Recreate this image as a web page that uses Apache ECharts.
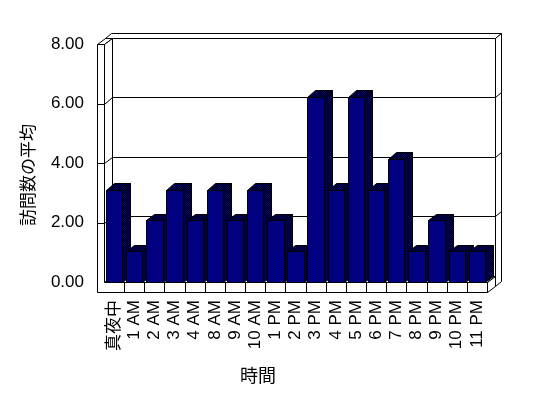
<!DOCTYPE html>
<html>
<head>
<meta charset="utf-8">
<script src="https://cdn.jsdelivr.net/npm/echarts@6/dist/echarts.min.js"></script>
<style>
  html, body { margin: 0; padding: 0; background: #fff; }
  #chart { width: 548px; height: 398px; }
</style>
</head>
<body>
<div id="chart"></div>
<script>
var hours = ['真夜中', '1 AM', '2 AM', '3 AM', '4 AM', '8 AM', '9 AM', '10 AM', '1 PM', '2 PM',
  '3 PM', '4 PM', '5 PM', '6 PM', '7 PM', '8 PM', '9 PM', '10 PM', '11 PM'];
var visits = [3.1, 1.03, 2.07, 3.1, 2.07, 3.1, 2.07, 3.1, 2.07, 1.03,
  6.23, 3.1, 6.23, 3.1, 4.14, 1.03, 2.07, 1.03, 1.03];
var yTicks = [0, 2, 4, 6, 8];
var xTitle = '時間';
var yTitle = '訪問数の平均';

var latin = "'Liberation Sans', 'Noto Sans CJK JP', sans-serif";
var cjk = "'Noto Sans CJK JP', sans-serif";

// 3D helper: depth z goes right and up
function P(x, y, z) {
  return [Math.round(x + z) + 0.5, Math.round(y - 0.8 * z) + 0.5];
}

// checker pattern for the side / top faces of the columns
var pc = document.createElement('canvas');
pc.width = 2; pc.height = 2;
var g = pc.getContext('2d');
g.fillStyle = '#000000'; g.fillRect(0, 0, 2, 2);
g.fillStyle = '#000080'; g.fillRect(0, 0, 1, 1); g.fillRect(1, 1, 1, 1);
var shade = { image: pc, repeat: 'repeat' };

var W = 7, F = 10, D = 8, B = 14; // wall, floor, depth, back slab

function renderFrame(params, api) {
  var cs = params.coordSys;
  var x0 = cs.x, x1 = cs.x + cs.width, yt = cs.y, y0 = cs.y + cs.height;
  var cw = api.size([1, 0])[0];
  var els = [];
  function poly(pts) {
    els.push({ type: 'polygon', shape: { points: pts }, style: { fill: '#fff', stroke: '#000', lineWidth: 1 } });
  }
  function line(a, b) {
    els.push({ type: 'line', shape: { x1: a[0], y1: a[1], x2: b[0], y2: b[1] }, style: { stroke: '#000', lineWidth: 1 } });
  }
  // back wall
  poly([P(x0 - W, yt, D), P(x1, yt, D), P(x1, yt, B), P(x0 - W, yt, B)]);
  poly([P(x1, yt, D), P(x1, y0 + F, D), P(x1, y0 + F, B), P(x1, yt, B)]);
  poly([P(x0, yt, D), P(x1, yt, D), P(x1, y0, D), P(x0, y0, D)]);
  // left wall
  poly([P(x0 - W, yt, 0), P(x0, yt, 0), P(x0, yt, D), P(x0 - W, yt, D)]);
  poly([P(x0, yt, 0), P(x0, yt, D), P(x0, y0, D), P(x0, y0, 0)]);
  // floor
  poly([P(x0, y0, 0), P(x1, y0, 0), P(x1, y0, D), P(x0, y0, D)]);
  poly([P(x1, y0, 0), P(x1, y0, D), P(x1, y0 + F, D), P(x1, y0 + F, 0)]);
  // front faces of wall + floor
  poly([P(x0 - W, yt, 0), P(x0, yt, 0), P(x0, y0, 0), P(x1, y0, 0), P(x1, y0 + F, 0), P(x0 - W, y0 + F, 0)]);
  // gridlines
  yTicks.forEach(function (v) {
    if (v === 0 || v === 8) return;
    var y = api.coord([0, v])[1];
    line(P(x0, y, D), P(x1, y, D));
    line(P(x0, y, 0), P(x0, y, D));
    line(P(x1, y, D), P(x1, y, B));
    line(P(x0 - W, y, 0), P(x0, y, 0));
  });
  // category dividers on the floor front
  for (var k = 1; k < hours.length; k++) {
    var x = x0 + k * cw;
    line(P(x, y0, 0), P(x, y0 + F, 0));
  }
  return { type: 'group', children: els };
}

function renderBar(params, api) {
  var i = api.value(0), v = api.value(1);
  var base = api.coord([i, 0]);
  var top = api.coord([i, v]);
  var w = api.size([1, 0])[0] * 0.81;
  var xl = base[0] - w / 2, xr = base[0] + w / 2, yb = base[1], yt = top[1];
  var st = { stroke: '#000', lineWidth: 1 };
  return {
    type: 'group',
    children: [
      { type: 'polygon', shape: { points: [P(xr, yt, 0), P(xr, yt, D), P(xr, yb, D), P(xr, yb, 0)] },
        style: Object.assign({ fill: shade }, st) },
      { type: 'polygon', shape: { points: [P(xl, yt, 0), P(xr, yt, 0), P(xr, yt, D), P(xl, yt, D)] },
        style: Object.assign({ fill: shade }, st) },
      { type: 'polygon', shape: { points: [P(xl, yt, 0), P(xr, yt, 0), P(xr, yb, 0), P(xl, yb, 0)] },
        style: Object.assign({ fill: '#000080' }, st) }
    ]
  };
}

var chart = echarts.init(document.getElementById('chart'));
chart.setOption({
  animation: false,
  backgroundColor: '#fff',
  grid: { left: 104, right: 61, top: 44, bottom: 116 },
  xAxis: {
    type: 'category',
    data: hours,
    axisLine: { show: false },
    axisTick: { show: false },
    axisLabel: { interval: 0, rotate: 90, margin: 18, fontSize: 17, color: '#000', fontFamily: latin }
  },
  yAxis: {
    type: 'value',
    min: 0, max: 8, interval: 2,
    axisLine: { show: false },
    axisTick: { show: false },
    splitLine: { show: false },
    axisLabel: {
      margin: 20, fontSize: 17, color: '#000', fontFamily: latin,
      formatter: function (v) { return v.toFixed(2); }
    }
  },
  graphic: [
    { type: 'text', x: 258, y: 375,
      style: { text: xTitle, font: '18px ' + cjk, fill: '#000', align: 'center', verticalAlign: 'middle' } },
    { type: 'text', x: 28, y: 175, rotation: Math.PI / 2,
      style: { text: yTitle, font: '17px ' + cjk, fill: '#000', align: 'center', verticalAlign: 'middle' } }
  ],
  series: [
    { type: 'custom', renderItem: renderFrame, data: [[0, 0]], z: 1, silent: true, clip: false },
    { type: 'custom', renderItem: renderBar, data: visits.map(function (v, i) { return [i, v]; }), z: 2, clip: false }
  ]
});
</script>
</body>
</html>
